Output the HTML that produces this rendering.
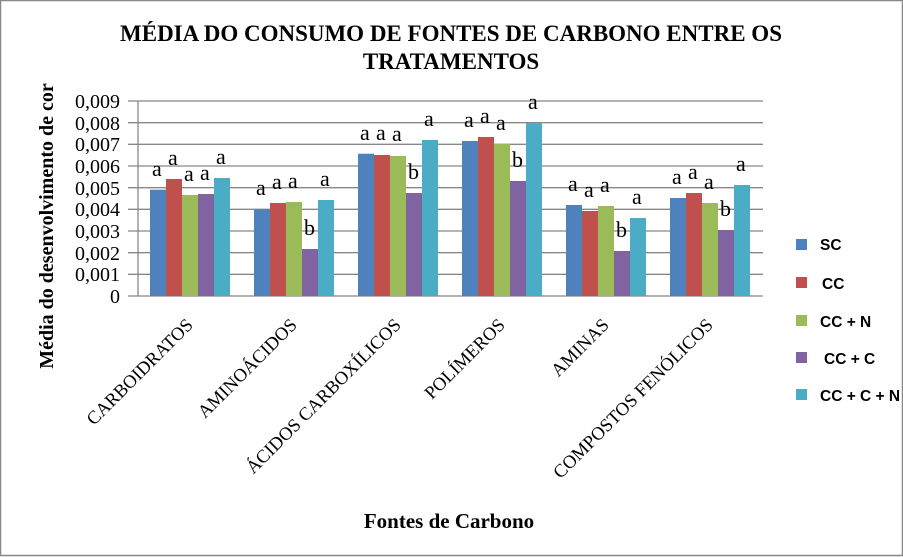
<!DOCTYPE html>
<html><head><meta charset="utf-8"><style>
body{margin:0;background:#fff}
svg{display:block}
</style></head><body>
<svg width="903" height="557" xmlns="http://www.w3.org/2000/svg" font-family="Liberation Serif, serif">
<rect x="0.5" y="0.5" width="902" height="555" fill="#fff" stroke="#888" stroke-width="1.5"/>
<text x="451" y="41" font-size="23" font-weight="bold" text-anchor="middle">MÉDIA DO CONSUMO DE FONTES DE CARBONO ENTRE OS</text>
<text x="451" y="69" font-size="23" font-weight="bold" text-anchor="middle">TRATAMENTOS</text>
<g stroke="#888" stroke-width="1.3">
<line x1="128" x2="763" y1="101" y2="101"/><line x1="128" x2="763" y1="122.7" y2="122.7"/>
<line x1="128" x2="763" y1="144.3" y2="144.3"/><line x1="128" x2="763" y1="166" y2="166"/>
<line x1="128" x2="763" y1="187.7" y2="187.7"/><line x1="128" x2="763" y1="209.3" y2="209.3"/>
<line x1="128" x2="763" y1="231" y2="231"/><line x1="128" x2="763" y1="252.7" y2="252.7"/>
<line x1="128" x2="763" y1="274.3" y2="274.3"/><line x1="128" x2="763" y1="296" y2="296"/>
<line x1="138" x2="138" y1="101" y2="296"/>
</g>
<g font-size="20" text-anchor="end">
<text x="120" y="108">0,009</text><text x="120" y="130">0,008</text><text x="120" y="151">0,007</text>
<text x="120" y="173">0,006</text><text x="120" y="195">0,005</text><text x="120" y="216">0,004</text>
<text x="120" y="238">0,003</text><text x="120" y="260">0,002</text><text x="120" y="281">0,001</text>
<text x="120" y="303">0</text>
</g>
<text transform="translate(53,226) rotate(-90)" font-size="20" font-weight="bold" text-anchor="middle">Média do desenvolvimento de cor</text>
<g font-size="18.5" text-anchor="end">
<text transform="translate(194,326) rotate(-45)">CARBOIDRATOS</text>
<text transform="translate(298,326) rotate(-45)">AMINOÁCIDOS</text>
<text transform="translate(402,326) rotate(-45)">ÁCIDOS CARBOXÍLICOS</text>
<text transform="translate(506,326) rotate(-45)">POLÍMEROS</text>
<text transform="translate(610,326) rotate(-45)">AMINAS</text>
<text transform="translate(714,326) rotate(-45)">COMPOSTOS FENÓLICOS</text>
</g>
<text x="449" y="528" font-size="21" font-weight="bold" text-anchor="middle">Fontes de Carbono</text>
<g font-family="Liberation Sans, sans-serif" font-size="15.5" font-weight="bold">
<rect x="796" y="239" width="11" height="11" fill="#4f81bd"/><text x="820" y="250">SC</text>
<rect x="796" y="277" width="11" height="11" fill="#c0504d"/><text x="822" y="289">CC</text>
<rect x="796" y="315" width="11" height="11" fill="#9bbb59"/><text x="820" y="327">CC + N</text>
<rect x="796" y="352" width="11" height="11" fill="#8064a2"/><text x="824" y="364">CC + C</text>
<rect x="796" y="389" width="11" height="11" fill="#4bacc6"/><text x="820" y="401">CC + C + N</text>
</g>
<g font-size="22">
<rect x="150" y="189.7" width="16" height="106.3" fill="#4f81bd"/><rect x="166" y="179" width="16" height="117" fill="#c0504d"/><rect x="182" y="195" width="16" height="101" fill="#9bbb59"/><rect x="198" y="194" width="16" height="102" fill="#8064a2"/><rect x="214" y="178" width="16" height="118" fill="#4bacc6"/>
<text x="152" y="176">a</text><text x="168" y="165">a</text><text x="184" y="181">a</text><text x="200" y="180">a</text><text x="216" y="164">a</text>
<rect x="254" y="209.3" width="16" height="86.7" fill="#4f81bd"/><rect x="270" y="203" width="16" height="93" fill="#c0504d"/><rect x="286" y="202" width="16" height="94" fill="#9bbb59"/><rect x="302" y="249" width="16" height="47" fill="#8064a2"/><rect x="318" y="200" width="16" height="96" fill="#4bacc6"/>
<text x="256" y="195">a</text><text x="272" y="189">a</text><text x="288" y="188">a</text><text x="304" y="235">b</text><text x="320" y="186">a</text>
<rect x="358" y="153.7" width="16" height="142.3" fill="#4f81bd"/><rect x="374" y="155" width="16" height="141" fill="#c0504d"/><rect x="390" y="156" width="16" height="140" fill="#9bbb59"/><rect x="406" y="193" width="16" height="103" fill="#8064a2"/><rect x="422" y="140" width="16" height="156" fill="#4bacc6"/>
<text x="360" y="140">a</text><text x="376" y="140">a</text><text x="392" y="141">a</text><text x="408" y="179">b</text><text x="424" y="126">a</text>
<rect x="462" y="141" width="16" height="155" fill="#4f81bd"/><rect x="478" y="137" width="16" height="159" fill="#c0504d"/><rect x="494" y="144" width="16" height="152" fill="#9bbb59"/><rect x="510" y="181" width="16" height="115" fill="#8064a2"/><rect x="526" y="123.3" width="16" height="172.7" fill="#4bacc6"/>
<text x="464" y="127">a</text><text x="480" y="123">a</text><text x="496" y="130">a</text><text x="512" y="167">b</text><text x="528" y="109">a</text>
<rect x="566" y="205" width="16" height="91" fill="#4f81bd"/><rect x="582" y="211" width="16" height="85" fill="#c0504d"/><rect x="598" y="206" width="16" height="90" fill="#9bbb59"/><rect x="614" y="251" width="16" height="45" fill="#8064a2"/><rect x="630" y="218" width="16" height="78" fill="#4bacc6"/>
<text x="568" y="191">a</text><text x="584" y="197">a</text><text x="600" y="192">a</text><text x="616" y="237">b</text><text x="632" y="204">a</text>
<rect x="670" y="198" width="16" height="98" fill="#4f81bd"/><rect x="686" y="193" width="16" height="103" fill="#c0504d"/><rect x="702" y="203" width="16" height="93" fill="#9bbb59"/><rect x="718" y="230" width="16" height="66" fill="#8064a2"/><rect x="734" y="185" width="16" height="111" fill="#4bacc6"/>
<text x="672" y="184">a</text><text x="688" y="179">a</text><text x="704" y="189">a</text><text x="720" y="216">b</text><text x="736" y="171">a</text>
</g>
</svg>
</body></html>
